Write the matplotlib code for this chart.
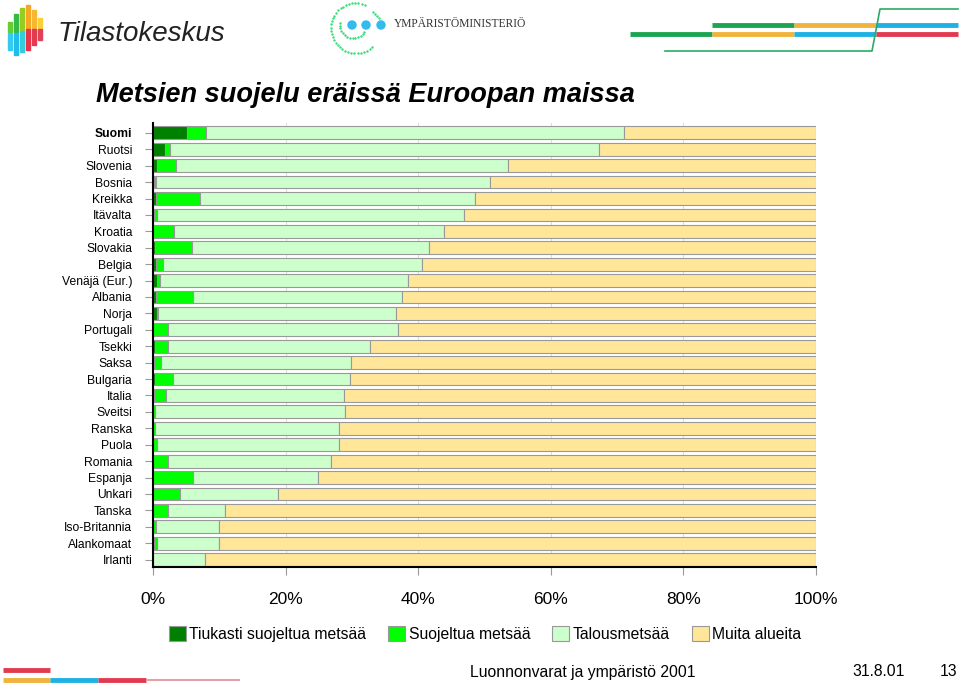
import matplotlib.pyplot as plt
from matplotlib.patches import Rectangle, Circle
import numpy as np

plt.rcParams['font.family'] = ['Liberation Sans', 'DejaVu Sans']

countries = ['Suomi', 'Ruotsi', 'Slovenia', 'Bosnia', 'Kreikka', 'Itävalta', 'Kroatia',
             'Slovakia', 'Belgia', 'Venäjä (Eur.)', 'Albania', 'Norja', 'Portugali', 'Tsekki',
             'Saksa', 'Bulgaria', 'Italia', 'Sveitsi', 'Ranska', 'Puola', 'Romania', 'Espanja',
             'Unkari', 'Tanska', 'Iso-Britannia', 'Alankomaat', 'Irlanti']
# shares in % of land area
tiukasti = [5.1, 1.8, 0.55, 0.2, 0.5, 0.2, 0.0, 0.35, 0.4, 0.55, 0.5, 0.6, 0.0, 0.3,
            0.1, 0.3, 0.2, 0.0, 0.0, 0.0, 0.0, 0.0, 0.0, 0.0, 0.0, 0.2, 0.0]
suojeltu = [2.9, 0.7, 2.85, 0.3, 6.6, 0.4, 3.2, 5.55, 1.1, 0.55, 5.5, 0.1, 2.3, 1.9,
            1.1, 2.7, 1.7, 0.35, 0.35, 0.55, 2.3, 6.0, 4.0, 2.3, 0.5, 0.35, 0.0]
talous = [63.0, 64.7, 50.1, 50.4, 41.4, 46.3, 40.7, 35.7, 39.0, 37.4, 31.5, 35.9, 34.7, 30.5,
          28.6, 26.7, 26.9, 28.55, 27.65, 27.45, 24.6, 18.9, 14.9, 8.6, 9.5, 9.35, 7.9]
muita = [29.0, 32.8, 46.5, 49.1, 51.5, 53.1, 56.1, 58.4, 59.5, 61.5, 62.5, 63.4, 63.0, 67.3,
         70.2, 70.3, 71.2, 71.1, 72.0, 72.0, 73.1, 75.1, 81.1, 89.1, 90.0, 90.1, 92.1]

series = [tiukasti, suojeltu, talous, muita]
names = ['Tiukasti suojeltua metsää', 'Suojeltua metsää', 'Talousmetsää', 'Muita alueita']
colors = ['#008000', '#00FF00', '#CCFFCC', '#FFE699']

fig = plt.figure(figsize=(9.6, 6.86), dpi=100)
ax = fig.add_axes([153/960, 119/686, 663/960, 444/686])

y = np.arange(len(countries))
left = np.zeros(len(countries))
for vals, nm, c in zip(series, names, colors):
    ax.barh(y, vals, left=left, height=0.78, color=c, edgecolor='#999999',
            linewidth=0.8, label=nm, zorder=2)
    left += np.array(vals)

ax.set_ylim(26.45, -0.6)
ax.set_xlim(0, 100)
ax.set_xticks(range(0, 101, 20))
ax.set_xticklabels([f'{v}%' for v in range(0, 101, 20)], fontsize=12.5)
ax.set_yticks(y)
ax.set_yticklabels(countries, fontsize=8.7)
ax.get_yticklabels()[0].set_fontweight('bold')
ax.tick_params(axis='y', length=6, color='#999999', pad=9)
ax.tick_params(axis='x', length=6, color='#999999', pad=12)
ax.xaxis.grid(True, color='#dddddd', linewidth=0.8, zorder=0)
ax.set_axisbelow(True)
for s in ['top', 'right']:
    ax.spines[s].set_visible(False)
ax.spines['left'].set_linewidth(1.5)
ax.spines['bottom'].set_linewidth(1.5)

fig.text(365/960, 1 - 95/686, 'Metsien suojelu eräissä Euroopan maissa', fontsize=19.5,
         fontweight='bold', fontstyle='italic', ha='center', va='center')

fig.legend(loc='center', bbox_to_anchor=(485/960, 1 - 634/686), ncol=4, frameon=False,
           fontsize=11.3, handlelength=1.1, handleheight=1.1, handletextpad=0.2,
           columnspacing=1.4, borderaxespad=0)

fig.text(470/960, 1 - 672/686, 'Luonnonvarat ja ympäristö 2001', fontsize=11.3, va='center')
fig.text(905/960, 1 - 672/686, '31.8.01', fontsize=11.3, va='center', ha='right')
fig.text(957/960, 1 - 672/686, '13', fontsize=11.3, va='center', ha='right')

# decorations in pixel coordinates
deco = fig.add_axes([0, 0, 1, 1], zorder=-1)
deco.set_xlim(0, 960)
deco.set_ylim(686, 0)
deco.axis('off')

# statistics office logo stripes
stripes = [(8, 22, 32, '#66CC33', '#33CCEE', 50), (14, 14, 32, '#33BB44', '#22BBEE', 55),
           (20, 8, 30, '#99CC22', '#33CCDD', 52), (26, 5, 28, '#F5A623', '#E8334A', 50),
           (32, 10, 28, '#F7B731', '#E23B50', 45), (38, 18, 28, '#F9D03A', '#E04058', 40)]
for x0, t, m, c1, c2, b in stripes:
    deco.add_patch(Rectangle((x0, t), 4, m - t, color=c1))
    deco.add_patch(Rectangle((x0, m + 1), 4, b - m - 1, color=c2))
deco.text(58, 34, 'Tilastokeskus', fontsize=20, fontstyle='italic', va='center',
          color='#222222')

# ministry logo
a1 = np.radians(np.linspace(70, 310, 34))
deco.scatter(356 + 25 * np.cos(a1), 28 - 25 * np.sin(a1), s=3, color='#33DD77', lw=0)
a2 = np.radians(np.linspace(170, 330, 14))
deco.scatter(353 + 13 * np.cos(a2), 25 - 13 * np.sin(a2), s=3, color='#33DD77', lw=0)
a3 = np.radians(np.linspace(20, 60, 5))
deco.scatter(365 + 16 * np.cos(a3), 26 - 16 * np.sin(a3), s=3, color='#33DD77', lw=0)
for cx in [352, 366, 381]:
    deco.add_patch(Circle((cx, 25), 4, color='#33BBEE'))
deco.text(394, 24, 'YMPÄRISTÖMINISTERIÖ', fontsize=8.3, va='center',
          family=['Liberation Serif', 'DejaVu Serif'], color='#333333')

# top right lines
deco.plot([712, 794], [25, 25], color='#1BA552', lw=3.5, solid_capstyle='butt')
deco.plot([794, 876], [25, 25], color='#F0B43C', lw=3.5, solid_capstyle='butt')
deco.plot([876, 958], [25, 25], color='#1EB2E4', lw=3.5, solid_capstyle='butt')
deco.plot([630, 712], [34, 34], color='#1BA552', lw=3.5, solid_capstyle='butt')
deco.plot([712, 794], [34, 34], color='#F0B43C', lw=3.5, solid_capstyle='butt')
deco.plot([794, 876], [34, 34], color='#1EB2E4', lw=3.5, solid_capstyle='butt')
deco.plot([876, 958], [34, 34], color='#E23B50', lw=3.5, solid_capstyle='butt')
deco.plot([665, 872, 880, 958], [51, 51, 9, 9], color='#2BAA66', lw=1.2)

# bottom left lines
deco.plot([3, 50], [670, 670], color='#E23B50', lw=3.5, solid_capstyle='butt')
deco.plot([3, 50], [680, 680], color='#F0B43C', lw=3.5, solid_capstyle='butt')
deco.plot([50, 98], [680, 680], color='#1EB2E4', lw=3.5, solid_capstyle='butt')
deco.plot([98, 146], [680, 680], color='#E23B50', lw=3.5, solid_capstyle='butt')
deco.plot([146, 240], [680, 680], color='#E8A0A8', lw=1.5, solid_capstyle='butt')

fig.savefig('out.png', dpi=100)
